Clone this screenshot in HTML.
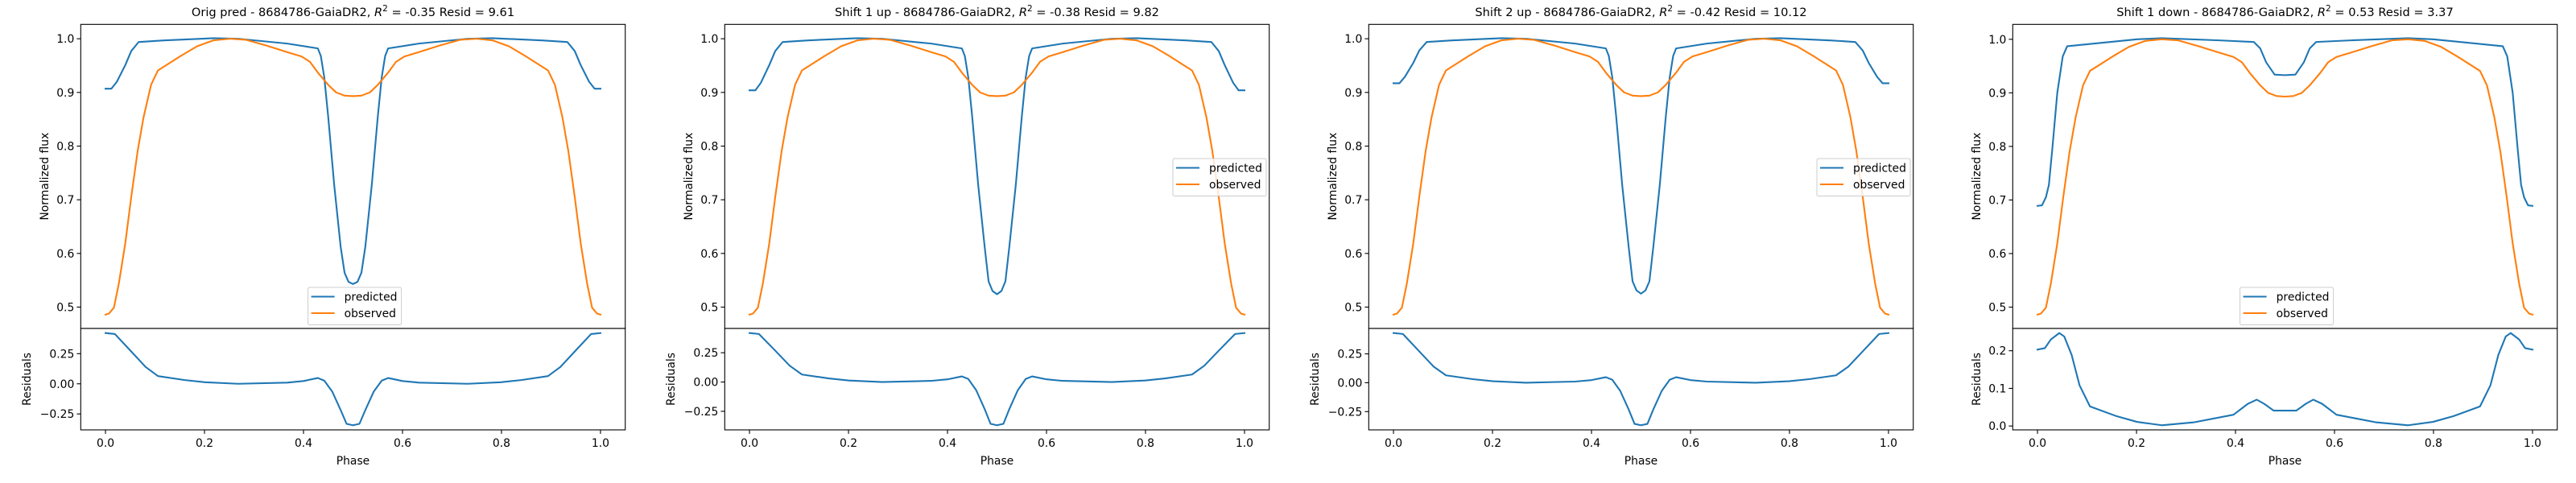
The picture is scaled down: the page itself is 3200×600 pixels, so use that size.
<!DOCTYPE html>
<html><head><meta charset="utf-8">
<style>
html,body{margin:0;padding:0;background:#fff;}
svg{display:block;font-family:"DejaVu Sans","Liberation Sans",sans-serif;}
</style></head>
<body>
<svg id="chart" width="3200" height="600" viewBox="0 0 3200 600" xmlns="http://www.w3.org/2000/svg"></svg>
<script>
const panelTitles = ["Orig pred", "Shift 1 up", "Shift 2 up", "Shift 1 down"];
const panelR2 = ["-0.35", "-0.38", "-0.42", "0.53"];
const panelResid = ["9.61", "9.82", "10.12", "3.37"];
const legendPos = ["bottom", "right", "right", "bottom"];

const obsX = [0,0.007,0.017,0.027,0.040,0.052,0.065,0.077,0.092,0.106,0.152,0.185,0.218,0.251,0.284,0.326,0.367,0.396,0.413,0.429,0.450,0.466,0.483,0.5,0.517,0.534,0.550,0.571,0.587,0.604,0.633,0.674,0.716,0.749,0.782,0.815,0.848,0.894,0.908,0.923,0.935,0.948,0.960,0.973,0.983,0.993,1.0];
const obsY = [0.486,0.488,0.499,0.544,0.619,0.705,0.791,0.854,0.914,0.941,0.968,0.986,0.997,1.0,0.998,0.987,0.975,0.967,0.957,0.937,0.914,0.900,0.894,0.893,0.894,0.900,0.914,0.937,0.957,0.967,0.975,0.987,0.998,1.0,0.997,0.986,0.968,0.941,0.914,0.854,0.791,0.705,0.619,0.544,0.499,0.488,0.486];

const predX = [0,0.012,0.023,0.040,0.052,0.067,0.118,0.218,0.268,0.367,0.429,0.435,0.442,0.450,0.462,0.475,0.483,0.491,0.5,0.509,0.517,0.525,0.538,0.550,0.558,0.565,0.571,0.633,0.732,0.782,0.882,0.933,0.948,0.960,0.977,0.988,1.0];
const pred1Y = [0.907,0.907,0.920,0.951,0.977,0.994,0.997,1.001,1.0,0.991,0.982,0.968,0.928,0.854,0.728,0.613,0.564,0.547,0.543,0.547,0.564,0.613,0.728,0.854,0.928,0.968,0.982,0.991,1.0,1.001,0.997,0.994,0.977,0.951,0.920,0.907,0.907];
const pred2Y = [0.904,0.904,0.918,0.951,0.977,0.994,0.997,1.001,1.0,0.991,0.982,0.968,0.928,0.854,0.728,0.613,0.548,0.530,0.524,0.530,0.548,0.613,0.728,0.854,0.928,0.968,0.982,0.991,1.0,1.001,0.997,0.994,0.977,0.951,0.918,0.904,0.904];
const pred3Y = [0.917,0.917,0.929,0.955,0.978,0.994,0.997,1.001,1.0,0.991,0.982,0.968,0.928,0.854,0.728,0.613,0.548,0.531,0.525,0.531,0.548,0.613,0.728,0.854,0.928,0.968,0.982,0.991,1.0,1.001,0.997,0.994,0.978,0.955,0.929,0.917,0.917];
const pred4X = [0,0.009,0.017,0.023,0.030,0.040,0.051,0.060,0.201,0.251,0.367,0.437,0.450,0.462,0.479,0.5,0.521,0.538,0.550,0.563,0.633,0.749,0.799,0.940,0.949,0.960,0.970,0.977,0.983,0.991,1.0];
const pred4Y = [0.689,0.690,0.705,0.728,0.796,0.900,0.968,0.987,1.0,1.002,0.998,0.995,0.983,0.957,0.934,0.933,0.934,0.957,0.983,0.995,0.998,1.002,1.0,0.987,0.968,0.900,0.796,0.728,0.705,0.690,0.689];

const resX = [0,0.019,0.052,0.081,0.106,0.160,0.201,0.268,0.367,0.400,0.429,0.442,0.458,0.475,0.487,0.5,0.513,0.525,0.542,0.558,0.571,0.600,0.633,0.732,0.799,0.840,0.894,0.919,0.948,0.981,1.0];
const res1Y = [0.421,0.413,0.268,0.140,0.064,0.031,0.013,0.0,0.010,0.023,0.048,0.026,-0.064,-0.217,-0.332,-0.344,-0.332,-0.217,-0.064,0.026,0.048,0.023,0.010,0.0,0.013,0.031,0.064,0.140,0.268,0.413,0.421];
const res2Y = [0.418,0.410,0.268,0.140,0.064,0.031,0.013,0.0,0.010,0.023,0.048,0.026,-0.070,-0.230,-0.357,-0.369,-0.357,-0.230,-0.070,0.026,0.048,0.023,0.010,0.0,0.013,0.031,0.064,0.140,0.268,0.410,0.418];
const res3Y = [0.430,0.422,0.272,0.140,0.064,0.031,0.013,0.0,0.010,0.023,0.048,0.026,-0.070,-0.230,-0.356,-0.368,-0.356,-0.230,-0.070,0.026,0.048,0.023,0.010,0.0,0.013,0.031,0.064,0.140,0.272,0.422,0.430];
const res4X = [0,0.015,0.027,0.044,0.054,0.069,0.085,0.106,0.160,0.201,0.251,0.317,0.396,0.425,0.443,0.458,0.477,0.5,0.523,0.542,0.557,0.575,0.604,0.683,0.749,0.799,0.840,0.894,0.915,0.931,0.946,0.956,0.973,0.985,1.0];
const res4Y = [0.203,0.207,0.230,0.247,0.238,0.189,0.108,0.052,0.026,0.011,0.002,0.010,0.030,0.059,0.070,0.059,0.041,0.041,0.041,0.059,0.070,0.059,0.030,0.010,0.002,0.011,0.026,0.052,0.108,0.189,0.238,0.247,0.230,0.207,0.203];

const xTicks = [0,0.2,0.4,0.6,0.8,1.0];
const xTickLabels = ["0.0","0.2","0.4","0.6","0.8","1.0"];
const mainTicks = [0.5,0.6,0.7,0.8,0.9,1.0];
const mainTickLabels = ["0.5","0.6","0.7","0.8","0.9","1.0"];
const resTicksA = [-0.25,0,0.25];
const resTickLabelsA = ["\u22120.25","0.00","0.25"];
const resTicksB = [0,0.1,0.2];
const resTickLabelsB = ["0.0","0.1","0.2"];

const panels = [
 {px:predX, py:pred1Y, rx:resX, ry:res1Y},
 {px:predX, py:pred2Y, rx:resX, ry:res2Y},
 {px:predX, py:pred3Y, rx:resX, ry:res3Y},
 {px:pred4X, py:pred4Y, rx:res4X, ry:res4Y}
];

const NS = "http://www.w3.org/2000/svg";
const svg = document.getElementById("chart");
function mk(tag, attrs, parent){
  const e = document.createElementNS(NS, tag);
  for (const k in attrs) e.setAttribute(k, attrs[k]);
  (parent||svg).appendChild(e);
  return e;
}
const BLUE="#1f77b4", ORANGE="#ff7f0e";
const L0=100.3, W=676.4, MT=30.3, MB=408, RB=534, FS=13.9, TFS=14.6;

function lim(arrs){
  let mn=Infinity,mx=-Infinity;
  arrs.forEach(a=>a.forEach(v=>{mn=Math.min(mn,v);mx=Math.max(mx,v);}));
  const m=(mx-mn)*0.05; return [mn-m,mx+m];
}

panels.forEach((p,i)=>{
  const ox = 800*i;
  const g = mk("g",{});
  
  
  const left=L0+ox;
  const X = v => left + (v+0.05)/1.1*W;
  const [mlo,mhi] = lim([obsY,p.py]);
  const YM = v => MB - (v-mlo)/(mhi-mlo)*(MB-MT);
  const [rlo,rhi] = lim([p.ry]);
  const YR = v => RB - (v-rlo)/(rhi-rlo)*(RB-MB);

  const t = mk("text",{x:left+W/2,y:20,"text-anchor":"middle","font-size":TFS,fill:"#000"},g);
  
  
  t.appendChild(document.createTextNode(panelTitles[i]+" - 8684786-GaiaDR2, "));
  const ti = mk("tspan",{"font-style":"italic"},t); ti.textContent="R";
  const ts = mk("tspan",{"font-size":"10.5","dy":"-6"},t); ts.textContent="2";
  const tr = mk("tspan",{"dy":"6"},t); tr.textContent=" = "+panelR2[i]+" Resid = "+panelResid[i];

  function line(xs,ys,yf,col,name){
    const pts = xs.map((x,k)=>X(x).toFixed(2)+","+yf(ys[k]).toFixed(2)).join(" ");
    const pl = mk("polyline",{points:pts,fill:"none",stroke:col,"stroke-width":2.1,"stroke-linejoin":"round","stroke-linecap":"square"},g);
    
    
  }
  line(p.px,p.py,YM,BLUE,'predicted-line');
  line(obsX,obsY,YM,ORANGE,'observed-line');
  line(p.rx,p.ry,YR,BLUE,'residuals-line');

  const f1 = mk("rect",{x:left,y:MT,width:W,height:MB-MT,fill:"none",stroke:"#000","stroke-width":1.1},g);
  
  
  const f2 = mk("rect",{x:left,y:MB,width:W,height:RB-MB,fill:"none",stroke:"#000","stroke-width":1.1},g);
  
  

  mainTicks.forEach((v,k)=>{
    const y=YM(v);
    const tk = mk("line",{x1:left-4.9,x2:left,y1:y,y2:y,stroke:"#000","stroke-width":1.1},g);
    
    
    const lb = mk("text",{x:left-8,y:y+5,"text-anchor":"end","font-size":FS},g);
    
    
    lb.textContent=mainTickLabels[k];
  });
  const rt = i===3?resTicksB:resTicksA, rl = i===3?resTickLabelsB:resTickLabelsA;
  rt.forEach((v,k)=>{
    const y=YR(v);
    const tk = mk("line",{x1:left-4.9,x2:left,y1:y,y2:y,stroke:"#000","stroke-width":1.1},g);
    
    
    const lb = mk("text",{x:left-8,y:y+5,"text-anchor":"end","font-size":FS},g);
    
    
    lb.textContent=rl[k];
  });
  xTicks.forEach((v,k)=>{
    const x=X(v);
    const tk = mk("line",{x1:x,x2:x,y1:RB,y2:RB+4.9,stroke:"#000","stroke-width":1.1},g);
    
    
    const lb = mk("text",{x:x,y:RB+21,"text-anchor":"middle","font-size":FS},g);
    
    
    lb.textContent=xTickLabels[k];
  });
  const xl = mk("text",{x:left+W/2,y:577,"text-anchor":"middle","font-size":FS},g);
  
  
  xl.textContent="Phase";
  const yl = mk("text",{x:0,y:0,"text-anchor":"middle","font-size":FS,transform:`translate(${ox+60},${(MT+MB)/2}) rotate(-90)`},g);
  
  
  yl.textContent="Normalized flux";
  const rl2 = mk("text",{x:0,y:0,"text-anchor":"middle","font-size":FS,transform:`translate(${ox+(i===3?60:38)},${(MB+RB)/2}) rotate(-90)`},g);
  
  
  rl2.textContent="Residuals";

  const lx = legendPos[i]==="bottom" ? ox+382.6 : ox+657, ly = legendPos[i]==="bottom" ? 357 : 197;
  const lg = mk("g",{},g);
  
  
  mk("rect",{x:lx,y:ly,width:116,height:46.5,rx:2,fill:"#fff","fill-opacity":0.8,stroke:"#ccc","stroke-width":1},lg);
  [["predicted",BLUE],["observed",ORANGE]].forEach((e,k)=>{
    const eg = mk("g",{},lg);
    
    
    const yy = ly+11.5+k*20.5;
    mk("line",{x1:lx+4,x2:lx+33,y1:yy,y2:yy,stroke:e[1],"stroke-width":2.1},eg);
    const tx = mk("text",{x:lx+45,y:yy+5,"font-size":FS},eg);
    tx.textContent=e[0];
  });
});
</script>
</body></html>
